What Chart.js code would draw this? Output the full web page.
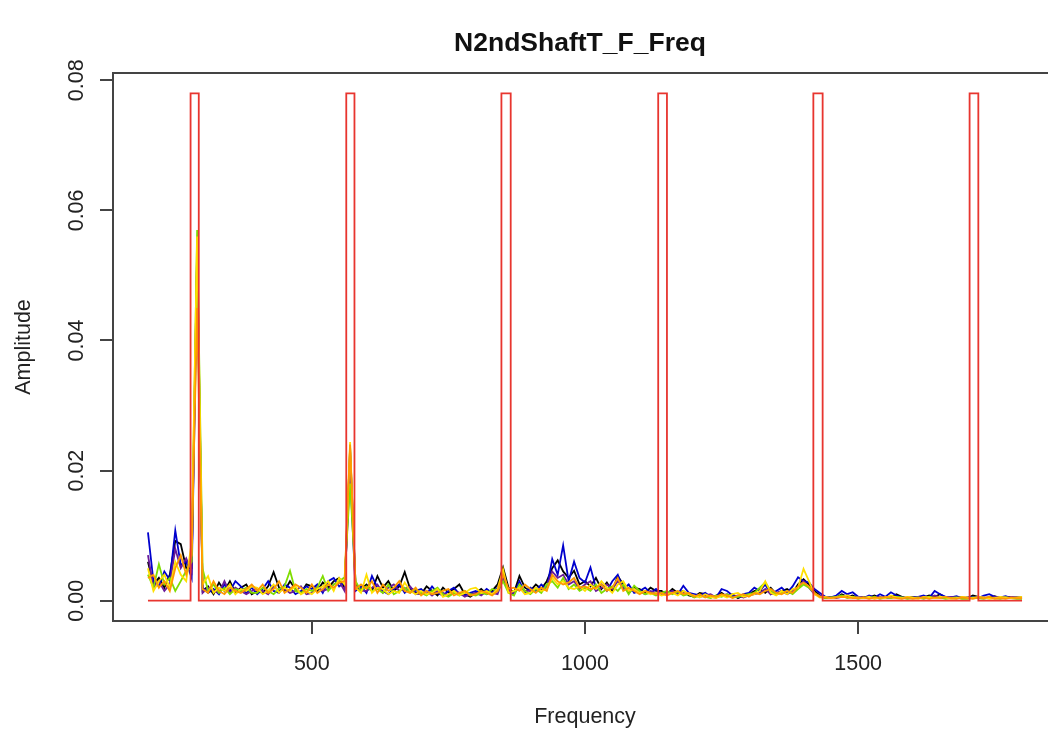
<!DOCTYPE html>
<html>
<head>
<meta charset="utf-8">
<script src="https://cdn.jsdelivr.net/npm/chart.js@4/dist/chart.umd.min.js"></script>
<style>
  html, body { margin: 0; padding: 0; background: #fff; overflow: hidden; }
  canvas { display: block; }
</style>
</head>
<body>
<canvas id="chart" width="1070" height="729" style="width:1070px;height:729px"></canvas>
<script>
// Chart text
const chartTitle = 'N2ndShaftT_F_Freq';
const xTitle = 'Frequency';
const yTitle = 'Amplitude';
const xTicks = [500, 1000, 1500];
const xTickLabels = ['500', '1000', '1500'];
const yTicks = [0, 0.02, 0.04, 0.06, 0.08];
const yTickLabels = ['0.00', '0.02', '0.04', '0.06', '0.08'];

// Harmonic band limits (red step line)
const bandX = [200, 278, 278, 293, 293, 563, 563, 578, 578, 847, 847, 864, 864,
    1134, 1134, 1150, 1150, 1418, 1418, 1435, 1435, 1704, 1704, 1720, 1720, 1800];
const bandY = [0, 0, 0.078, 0.078, 0, 0, 0.078, 0.078, 0, 0, 0.078, 0.078, 0,
    0, 0.078, 0.078, 0, 0, 0.078, 0.078, 0, 0, 0.078, 0.078, 0, 0];

// Spectrum frequencies
const freq = [
    200, 210, 220, 230, 240, 250, 260, 270, 280, 290,
    300, 310, 320, 330, 340, 350, 360, 370, 380, 390,
    400, 410, 420, 430, 440, 450, 460, 470, 480, 490,
    500, 510, 520, 530, 540, 550, 560, 570, 580, 590,
    600, 610, 620, 630, 640, 650, 660, 670, 680, 690,
    700, 710, 720, 730, 740, 750, 760, 770, 780, 790,
    800, 810, 820, 830, 840, 850, 860, 870, 880, 890,
    900, 910, 920, 930, 940, 950, 960, 970, 980, 990,
    1000, 1010, 1020, 1030, 1040, 1050, 1060, 1070, 1080, 1090,
    1100, 1110, 1120, 1130, 1140, 1150, 1160, 1170, 1180, 1190,
    1200, 1210, 1220, 1230, 1240, 1250, 1260, 1270, 1280, 1290,
    1300, 1310, 1320, 1330, 1340, 1350, 1360, 1370, 1380, 1390,
    1400, 1410, 1420, 1430, 1440, 1450, 1460, 1470, 1480, 1490,
    1500, 1510, 1520, 1530, 1540, 1550, 1560, 1570, 1580, 1590,
    1600, 1610, 1620, 1630, 1640, 1650, 1660, 1670, 1680, 1690,
    1700, 1710, 1720, 1730, 1740, 1750, 1760, 1770, 1780, 1790,
    1800
];

const ampBlack = [
    .0060, .0025, .0035, .0020, .0040, .0092, .0087, .0050, .0050, .0540,
    .0015, .0022, .0010, .0028, .0015, .0030, .0012, .0020, .0025, .0010,
    .0015, .0012, .0022, .0044, .0020, .0015, .0030, .0018, .0012, .0025,
    .0022, .0015, .0028, .0020, .0030, .0035, .0020, .0236, .0025, .0018,
    .0025, .0015, .0038, .0020, .0030, .0015, .0022, .0044, .0018, .0012,
    .0010, .0022, .0015, .0008, .0020, .0012, .0018, .0025, .0010, .0006,
    .0012, .0018, .0010, .0015, .0025, .0051, .0020, .0012, .0038, .0020,
    .0015, .0025, .0018, .0030, .0050, .0062, .0045, .0035, .0046, .0025,
    .0030, .0022, .0035, .0018, .0028, .0015, .0038, .0025, .0012, .0020,
    .0018, .0012, .0020, .0015, .0015, .0010, .0018, .0012, .0015, .0008,
    .0006, .0012, .0010, .0005, .0008, .0012, .0006, .0010, .0004, .0008,
    .0010, .0015, .0018, .0012, .0020, .0010, .0015, .0018, .0012, .0025,
    .0033, .0025, .0015, .0008, .0004, .0006, .0005, .0010, .0006, .0008,
    .0004, .0006, .0005, .0008, .0004, .0006, .0005, .0010, .0006, .0004,
    .0006, .0004, .0005, .0008, .0006, .0010, .0005, .0004, .0006, .0005,
    .0004, .0008, .0006, .0004, .0005, .0007, .0004, .0006, .0005, .0004,
    .0004
];

const ampBlue = [
    .0105, .0030, .0022, .0045, .0032, .0108, .0055, .0060, .0035, .0500,
    .0020, .0012, .0018, .0010, .0025, .0015, .0030, .0022, .0012, .0020,
    .0010, .0018, .0030, .0015, .0012, .0025, .0020, .0010, .0015, .0022,
    .0018, .0025, .0012, .0030, .0035, .0022, .0028, .0200, .0015, .0022,
    .0012, .0038, .0020, .0015, .0010, .0018, .0025, .0012, .0020, .0015,
    .0018, .0010, .0022, .0012, .0008, .0015, .0020, .0010, .0008, .0012,
    .0015, .0010, .0018, .0012, .0020, .0035, .0015, .0010, .0030, .0012,
    .0020, .0015, .0025, .0018, .0064, .0040, .0085, .0030, .0060, .0035,
    .0028, .0051, .0020, .0025, .0015, .0030, .0040, .0018, .0025, .0012,
    .0015, .0020, .0012, .0018, .0010, .0012, .0015, .0010, .0023, .0012,
    .0010, .0008, .0012, .0006, .0005, .0018, .0015, .0008, .0005, .0010,
    .0012, .0020, .0015, .0025, .0010, .0015, .0020, .0012, .0022, .0036,
    .0030, .0028, .0018, .0012, .0006, .0005, .0008, .0015, .0010, .0013,
    .0006, .0004, .0008, .0005, .0010, .0006, .0013, .0008, .0005, .0004,
    .0005, .0006, .0008, .0004, .0015, .0010, .0006, .0005, .0007, .0004,
    .0005, .0006, .0004, .0008, .0010, .0006, .0005, .0007, .0004, .0006,
    .0005
];

const ampPurple = [
    .0070, .0020, .0030, .0015, .0025, .0080, .0050, .0065, .0045, .0530,
    .0012, .0020, .0015, .0012, .0030, .0012, .0020, .0015, .0010, .0015,
    .0018, .0015, .0010, .0022, .0015, .0018, .0012, .0015, .0022, .0010,
    .0012, .0022, .0015, .0018, .0025, .0030, .0015, .0230, .0020, .0015,
    .0015, .0020, .0025, .0012, .0020, .0025, .0015, .0018, .0022, .0010,
    .0012, .0015, .0008, .0015, .0012, .0008, .0015, .0012, .0006, .0010,
    .0012, .0008, .0015, .0012, .0010, .0035, .0015, .0012, .0020, .0015,
    .0015, .0020, .0015, .0022, .0045, .0035, .0040, .0025, .0030, .0018,
    .0025, .0030, .0015, .0020, .0025, .0018, .0030, .0020, .0015, .0018,
    .0015, .0010, .0015, .0012, .0010, .0012, .0015, .0010, .0012, .0010,
    .0008, .0006, .0008, .0010, .0005, .0008, .0010, .0006, .0008, .0005,
    .0008, .0010, .0012, .0018, .0010, .0012, .0015, .0010, .0015, .0020,
    .0030, .0020, .0010, .0008, .0005, .0006, .0004, .0006, .0008, .0005,
    .0005, .0006, .0004, .0005, .0006, .0004, .0005, .0006, .0004, .0005,
    .0004, .0006, .0005, .0004, .0008, .0005, .0004, .0006, .0005, .0004,
    .0005, .0004, .0006, .0005, .0004, .0006, .0005, .0004, .0006, .0005,
    .0005
];

const ampOrange = [
    .0035, .0040, .0020, .0030, .0015, .0050, .0070, .0040, .0070, .0450,
    .0018, .0012, .0030, .0015, .0010, .0020, .0015, .0012, .0018, .0025,
    .0015, .0025, .0012, .0018, .0030, .0012, .0018, .0025, .0020, .0012,
    .0025, .0012, .0018, .0025, .0020, .0028, .0030, .0240, .0018, .0025,
    .0018, .0030, .0012, .0025, .0015, .0020, .0030, .0015, .0012, .0020,
    .0008, .0015, .0010, .0012, .0015, .0018, .0008, .0012, .0015, .0008,
    .0010, .0015, .0012, .0008, .0015, .0040, .0018, .0020, .0015, .0025,
    .0018, .0012, .0020, .0015, .0040, .0030, .0025, .0028, .0035, .0020,
    .0022, .0018, .0020, .0025, .0015, .0020, .0035, .0015, .0020, .0015,
    .0010, .0015, .0012, .0010, .0012, .0008, .0012, .0015, .0010, .0012,
    .0006, .0010, .0005, .0008, .0006, .0010, .0008, .0004, .0008, .0010,
    .0006, .0012, .0010, .0015, .0018, .0012, .0010, .0015, .0012, .0022,
    .0028, .0022, .0012, .0006, .0005, .0004, .0005, .0006, .0005, .0004,
    .0004, .0005, .0003, .0005, .0004, .0006, .0005, .0004, .0003, .0005,
    .0003, .0004, .0005, .0003, .0005, .0004, .0006, .0004, .0003, .0005,
    .0004, .0003, .0005, .0004, .0006, .0003, .0004, .0003, .0005, .0004,
    .0004
];

const ampGreen = [
    .0040, .0020, .0056, .0025, .0035, .0015, .0030, .0046, .0060, .0570,
    .0049, .0015, .0025, .0012, .0020, .0010, .0018, .0015, .0020, .0012,
    .0012, .0020, .0015, .0010, .0018, .0022, .0046, .0015, .0012, .0018,
    .0015, .0020, .0038, .0015, .0025, .0030, .0036, .0180, .0030, .0015,
    .0022, .0015, .0018, .0012, .0025, .0010, .0015, .0020, .0012, .0018,
    .0012, .0008, .0015, .0020, .0010, .0006, .0012, .0008, .0015, .0010,
    .0008, .0012, .0010, .0018, .0015, .0030, .0012, .0008, .0025, .0015,
    .0010, .0018, .0012, .0025, .0030, .0020, .0035, .0018, .0025, .0015,
    .0020, .0015, .0025, .0012, .0018, .0022, .0015, .0025, .0010, .0023,
    .0015, .0010, .0012, .0008, .0012, .0015, .0010, .0014, .0008, .0010,
    .0005, .0008, .0006, .0004, .0008, .0006, .0010, .0005, .0006, .0008,
    .0010, .0012, .0020, .0028, .0015, .0010, .0012, .0015, .0010, .0018,
    .0025, .0020, .0012, .0006, .0004, .0005, .0006, .0008, .0004, .0006,
    .0003, .0005, .0004, .0006, .0003, .0005, .0004, .0006, .0005, .0003,
    .0004, .0005, .0003, .0006, .0004, .0005, .0003, .0004, .0005, .0003,
    .0003, .0005, .0004, .0003, .0005, .0004, .0003, .0005, .0004, .0003,
    .0003
];

const ampYellow = [
    .0050, .0015, .0030, .0040, .0020, .0060, .0040, .0030, .0090, .0560,
    .0025, .0038, .0012, .0020, .0015, .0025, .0010, .0018, .0015, .0022,
    .0020, .0010, .0015, .0025, .0012, .0020, .0015, .0022, .0010, .0015,
    .0010, .0018, .0022, .0030, .0015, .0035, .0025, .0244, .0020, .0012,
    .0040, .0012, .0020, .0018, .0010, .0015, .0012, .0028, .0015, .0010,
    .0015, .0010, .0012, .0018, .0006, .0010, .0015, .0008, .0012, .0018,
    .0020, .0012, .0015, .0010, .0018, .0048, .0012, .0015, .0020, .0010,
    .0012, .0020, .0015, .0018, .0035, .0025, .0030, .0020, .0018, .0022,
    .0015, .0025, .0018, .0030, .0020, .0012, .0025, .0030, .0015, .0018,
    .0012, .0015, .0010, .0012, .0008, .0010, .0012, .0008, .0015, .0010,
    .0008, .0005, .0010, .0006, .0004, .0008, .0005, .0010, .0012, .0006,
    .0008, .0010, .0015, .0030, .0012, .0008, .0015, .0010, .0018, .0020,
    .0049, .0030, .0010, .0005, .0006, .0004, .0005, .0006, .0008, .0005,
    .0005, .0004, .0006, .0003, .0005, .0004, .0008, .0005, .0004, .0006,
    .0005, .0003, .0006, .0005, .0004, .0006, .0005, .0003, .0004, .0006,
    .0005, .0004, .0006, .0005, .0003, .0004, .0006, .0005, .0004, .0005,
    .0006
];

// first entry is drawn on top
const seriesNames = ['orange', 'yellow', 'green', 'purple', 'blue', 'black'];
const seriesColors = ['#ff9900', '#ffe000', '#7fdd00', '#6a1b9a', '#0000cd', '#000000'];
const seriesValues = [ampOrange, ampYellow, ampGreen, ampPurple, ampBlue, ampBlack];

const FONT = '"Liberation Sans", Arial, sans-serif';

// R-style frame, tick labels and titles
const rFrame = {
    id: 'rFrame',
    afterDraw(chart) {
        const { ctx, chartArea: a, scales: { x, y } } = chart;
        ctx.save();
        ctx.strokeStyle = '#444';
        ctx.lineWidth = 2;
        ctx.strokeRect(a.left, a.top, a.right - a.left, a.bottom - a.top);

        ctx.fillStyle = '#222';
        ctx.font = `21.5px ${FONT}`;
        ctx.textAlign = 'center';
        ctx.textBaseline = 'alphabetic';
        xTicks.forEach((v, i) => ctx.fillText(xTickLabels[i], x.getPixelForValue(v), 670));
        yTicks.forEach((v, i) => {
            ctx.save();
            ctx.translate(83, y.getPixelForValue(v));
            ctx.rotate(-Math.PI / 2);
            ctx.fillText(yTickLabels[i], 0, 0);
            ctx.restore();
        });
        ctx.fillText(xTitle, (a.left + a.right) / 2, 723);
        ctx.save();
        ctx.translate(30, (a.top + a.bottom) / 2);
        ctx.rotate(-Math.PI / 2);
        ctx.fillText(yTitle, 0, 0);
        ctx.restore();

        ctx.fillStyle = '#111';
        ctx.font = `bold 26.5px ${FONT}`;
        ctx.fillText(chartTitle, 580, 51);
        ctx.restore();
    }
};

const datasets = [{
    label: 'bands',
    data: bandX.map((f, i) => ({ x: f, y: bandY[i] })),
    borderColor: '#e8352f',
    borderWidth: 1.8,
    pointRadius: 0
}];
seriesNames.forEach((name, k) => {
    datasets.push({
        label: name,
        data: freq.map((f, i) => ({ x: f, y: seriesValues[k][i] })),
        borderColor: seriesColors[k],
        borderWidth: 1.8,
        pointRadius: 0
    });
});

new Chart(document.getElementById('chart').getContext('2d'), {
    type: 'line',
    data: { datasets },
    options: {
        responsive: false,
        animation: false,
        layout: { padding: { top: 73, right: 13, left: 0, bottom: 0 } },
        plugins: { legend: { display: false }, tooltip: { enabled: false }, title: { display: false } },
        elements: { line: { tension: 0 } },
        scales: {
            x: {
                type: 'linear', min: 136, max: 1864,
                afterBuildTicks: s => { s.ticks = xTicks.map(v => ({ value: v })); },
                afterFit: s => { s.height = 108; },
                ticks: { display: false },
                grid: { drawOnChartArea: false, drawTicks: true, tickLength: 13, color: '#444', lineWidth: 2 },
                border: { display: false }
            },
            y: {
                type: 'linear', min: -0.00312, max: 0.08112,
                afterBuildTicks: s => { s.ticks = yTicks.map(v => ({ value: v })); },
                afterFit: s => { s.width = 113; },
                ticks: { display: false },
                grid: { drawOnChartArea: false, drawTicks: true, tickLength: 13, color: '#444', lineWidth: 2 },
                border: { display: false }
            }
        }
    },
    plugins: [rFrame]
});
</script>
</body>
</html>
